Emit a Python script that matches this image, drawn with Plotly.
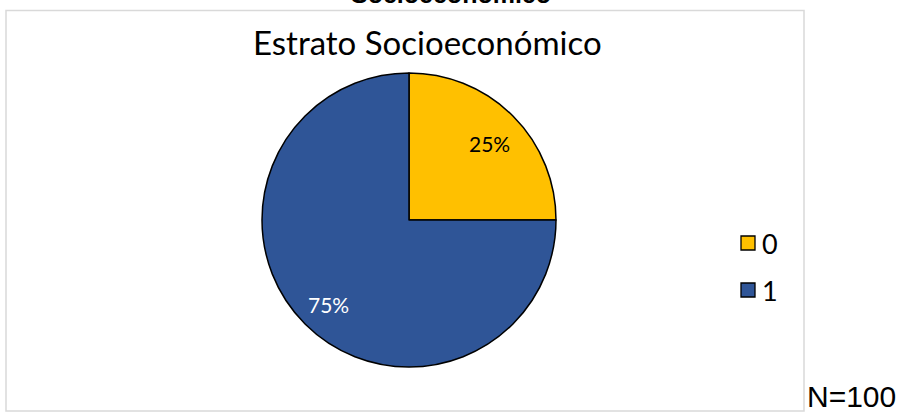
import math
import plotly.graph_objects as go

# Data
categories = ["0", "1"]
counts = [25, 75]
colors = ["#FFC000", "#2F5597"]
label_colors = ["#000000", "#FFFFFF"]
title_text = "Estrato Socioeconómico"
header_text = "Socioeconómico"
note_text = "N=100"

W, H = 904, 417


def fx(px):
    return px / W


def fy(py):
    return 1 - py / H


# pie geometry in pixels
cx, cy, r = 409, 220, 147

fig = go.Figure()
fig.add_trace(go.Pie(
    labels=categories,
    values=counts,
    sort=False,
    direction="clockwise",
    rotation=0,
    marker=dict(colors=colors, line=dict(color="#000000", width=1.5)),
    textinfo="none",
    hoverinfo="label+percent",
    showlegend=False,
    domain=dict(x=[fx(cx - r), fx(cx + r)], y=[fy(cy + r), fy(cy - r)]),
))

annotations = []
total = sum(counts)
start = 0.0
for cat, v, tc in zip(categories, counts, label_colors):
    frac = v / total
    mid = start + frac / 2
    theta = 2 * math.pi * mid
    lx = cx + 0.77 * r * math.sin(theta)
    ly = cy + 4 - 0.77 * r * math.cos(theta)
    annotations.append(dict(
        x=fx(lx), y=fy(ly), xref="paper", yref="paper",
        text=f"{frac:.0%}", showarrow=False,
        xanchor="center", yanchor="middle",
        font=dict(family="Lato", size=21, color=tc),
    ))
    start += frac

# chart title
annotations.append(dict(
    x=fx(427), y=fy(42), xref="paper", yref="paper",
    text=title_text, showarrow=False, xanchor="center", yanchor="middle",
    font=dict(family="Lato", size=33, color="#000000"),
))
# heading clipped at the top edge
annotations.append(dict(
    x=fx(451), y=fy(10), xref="paper", yref="paper",
    text=f"<b>{header_text}</b>", showarrow=False, xanchor="center", yanchor="bottom",
    font=dict(family="Liberation Sans", size=25, color="#000000"),
))
# sample size note
annotations.append(dict(
    x=fx(805), y=fy(415), xref="paper", yref="paper",
    text=note_text, showarrow=False, xanchor="left", yanchor="bottom",
    font=dict(family="Liberation Sans", size=30, color="#000000"),
))

shapes = [
    # chart area border
    dict(type="rect", xref="paper", yref="paper",
         x0=fx(6), x1=fx(804), y0=fy(411), y1=fy(10.5),
         line=dict(color="#D9D9D9", width=1.5), fillcolor="rgba(0,0,0,0)"),
]

# legend swatches and labels
legend_y = [243, 290]
for cat, col, ly in zip(categories, colors, legend_y):
    shapes.append(dict(type="rect", xref="paper", yref="paper",
                       x0=fx(741), x1=fx(755), y0=fy(ly + 7), y1=fy(ly - 7),
                       line=dict(color="#000000", width=1.3), fillcolor=col))
    annotations.append(dict(
        x=fx(760), y=fy(ly), xref="paper", yref="paper",
        text=cat, showarrow=False, xanchor="left", yanchor="middle",
        font=dict(family="Lato", size=27, color="#000000"),
    ))

fig.update_layout(
    width=W, height=H,
    margin=dict(l=0, r=0, t=0, b=0),
    paper_bgcolor="#FFFFFF",
    plot_bgcolor="#FFFFFF",
    annotations=annotations,
    shapes=shapes,
)

fig.write_html("out.html")
